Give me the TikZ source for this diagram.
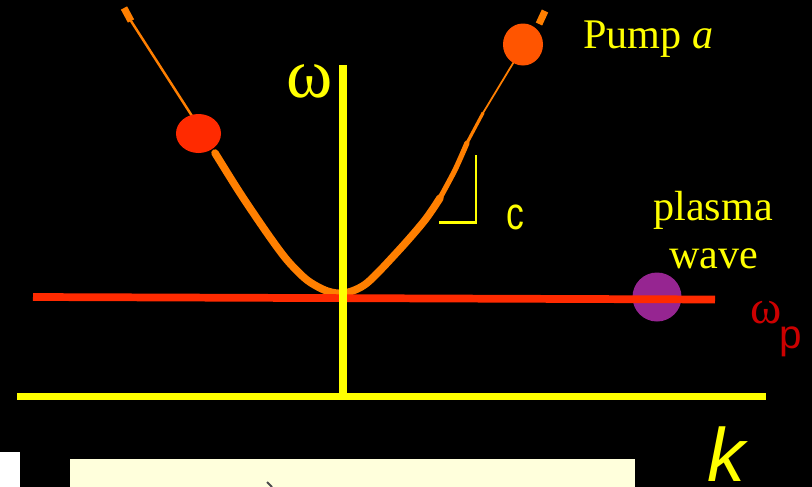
\documentclass[tikz,border=0pt]{standalone}
\usepackage{fontspec}
\setmainfont{Liberation Serif}
\setsansfont{Liberation Sans}
\usepackage{xcolor}
\definecolor{axisyellow}{HTML}{FFFF00}
\definecolor{plasmared}{HTML}{FF2A00}
\definecolor{curveorange}{HTML}{FF7F00}
\definecolor{pumpdot}{HTML}{FF5500}
\definecolor{wavepurple}{HTML}{962591}
\definecolor{freqred}{HTML}{CC0000}
\definecolor{paneyellow}{HTML}{FFFFDC}
\tikzset{
  axis/.style={draw=axisyellow,line width=4.4pt},
  plasmaline/.style={draw=plasmared,line width=4.4pt},
  curve/.style={draw=curveorange,line cap=round,line join=round},
  label/.style={text=axisyellow,inner sep=0pt}
}

\begin{document}
\begin{tikzpicture}[x=0.02cm,y=-0.02cm]
  \fill[black] (0,0) rectangle (812,487);
  \useasboundingbox (0,0) rectangle (812,487);
  % bits of the slide below
  \fill[white] (0,452) rectangle (20,487);
  \fill[paneyellow] (70,459) rectangle (635,487);
  \draw[gray!60!black,line width=1.2pt] (267,482) -- (272,487);
  % plasma wave dot sits under the line
  \fill[wavepurple] (657,297) circle[radius=24.5];
  % dispersion curve, thinning towards the ends
  \draw[curve,line width=4.3pt] plot[smooth] coordinates
    {(215,153) (240,193) (267,233) (287,260) (307,280) (327,291) (345,293)
     (367,283) (400,249) (425,220) (440,198)};
  \draw[curve,line width=3pt] plot[smooth] coordinates
    {(440,198) (455,170) (467,143)};
  \draw[curve,line width=1.8pt] (467,143) -- (483,113);
  \draw[curve,line width=1pt] (483,113) -- (515,60);
  \draw[curve,line width=1.4pt] (131,21) -- (192,116);
  \draw[curve,line width=4pt,line cap=butt] (124,8) -- (131,21);
  \draw[curve,line width=4pt,line cap=butt] (545,11) -- (539,24);
  % horizontal plasma frequency line
  \draw[plasmaline] (33,297) -- (715,299.5);
  % axes
  \draw[axis] (17,396.5) -- (766,396.5);
  \draw[axis] (343,65) -- (343,396.5);
  % slope mark
  \draw[axisyellow,line width=1.2pt] (476,155) -- (476,222.5) -- (439,222.5);
  % photons on the curve
  \fill[plasmared] (198.5,133.5) ellipse[x radius=22.5,y radius=19.5];
  \fill[pumpdot] (523,44.5) ellipse[x radius=20,y radius=21];
  % labels
  \node[label,anchor=base,font=\fontsize{40}{40}\selectfont] (omega) at (310,97) {ω};
  \node[label,anchor=base west,font=\fontsize{24}{24}\selectfont] (pump) at (583,48) {Pump \textit{a}};
  \node[label,anchor=base west,xscale=0.78,font=\sffamily\fontsize{26}{26}\selectfont] (speed) at (506,229) {c};
  \node[label,anchor=base,font=\fontsize{24}{24}\selectfont] (plasma) at (713,220) {plasma};
  \node[label,anchor=base,font=\fontsize{24}{24}\selectfont] (wave) at (714,268) {wave};
  \node[text=freqred,inner sep=0pt,anchor=base,font=\fontsize{27}{27}\selectfont] (wp) at (766,323) {ω};
  \node[text=freqred,inner sep=0pt,anchor=base west,font=\sffamily\fontsize{23}{23}\selectfont] (wpsub) at (779,348) {p};
  \node[label,anchor=base west,font=\sffamily\itshape\fontsize{43}{43}\selectfont] (kaxis) at (707,481) {k};
\end{tikzpicture}
\end{document}
